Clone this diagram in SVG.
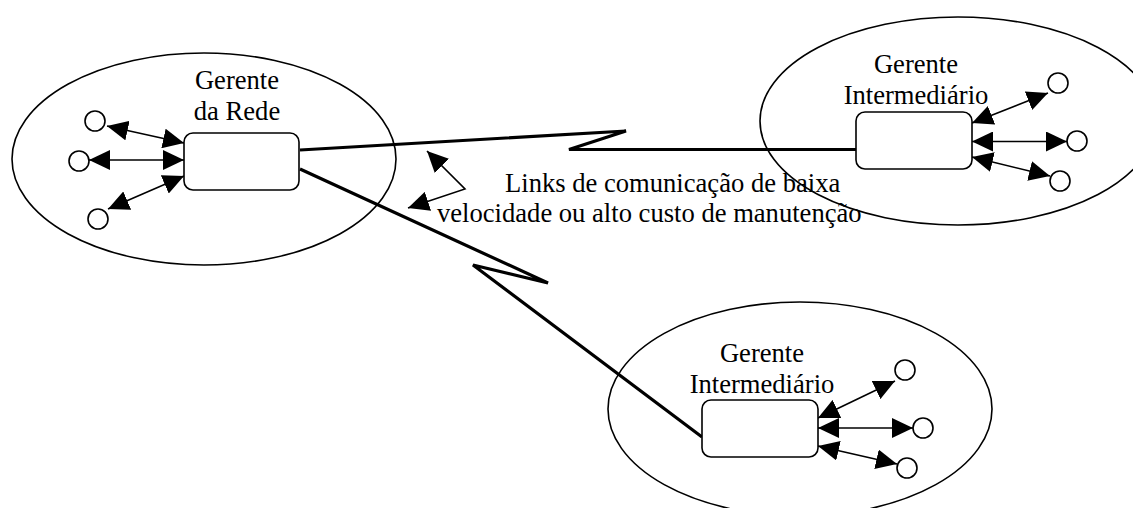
<svg xmlns="http://www.w3.org/2000/svg" width="1133" height="508" viewBox="0 0 1133 508">
<style>
.ell{fill:none;stroke:#000;stroke-width:1.6}
.box{fill:#fff;stroke:#000;stroke-width:1.6}
.dot{fill:#fff;stroke:#000;stroke-width:1.6}
.link{fill:none;stroke:#000;stroke-width:3.2;stroke-linejoin:miter}
.arr{fill:none;stroke:#000;stroke-width:1.6;marker-start:url(#ah);marker-end:url(#ah)}
.t{font-family:"Liberation Serif","Times New Roman",serif;font-size:26.6px;fill:#000}
.c{text-anchor:middle}
</style>
<defs>
<marker id="ah" markerUnits="userSpaceOnUse" markerWidth="22" markerHeight="20" refX="21" refY="10" orient="auto-start-reverse" viewBox="0 0 22 20">
<path d="M0,0 L21,10 L0,20 z" fill="#000"/>
</marker>
</defs>
<g id="domains">
<ellipse class="ell" cx="204" cy="159" rx="192" ry="106"/>
<ellipse class="ell" cx="958" cy="121" rx="198" ry="104"/>
<ellipse class="ell" cx="800" cy="409" rx="192" ry="107"/>
</g>
<g id="connectors">
<path class="link" d="M300,150 L626,131 L569,149.5 L856,149.5"/>
<path class="link" d="M300,169 L548,283 L473,265 L702,437"/>
<polyline class="arr" points="427,151 465,189 408,208"/>
<line class="arr" x1="184" y1="143" x2="107" y2="126"/>
<line class="arr" x1="184" y1="160" x2="89" y2="160"/>
<line class="arr" x1="184" y1="176" x2="108" y2="209"/>
<line class="arr" x1="972" y1="123" x2="1048" y2="93"/>
<line class="arr" x1="972" y1="141.5" x2="1067" y2="141.5"/>
<line class="arr" x1="972" y1="157" x2="1050" y2="176"/>
<line class="arr" x1="818" y1="418" x2="895" y2="381"/>
<line class="arr" x1="818" y1="428" x2="913" y2="428"/>
<line class="arr" x1="818" y1="446" x2="897" y2="464"/>
</g>
<g id="gerente-rede">
<rect class="box" x="184" y="133" width="115" height="57" rx="9"/>
<text class="t c" x="237" y="89">Gerente</text>
<text class="t c" x="237" y="120">da Rede</text>
<circle class="dot" cx="95" cy="121" r="10"/>
<circle class="dot" cx="79" cy="161" r="10"/>
<circle class="dot" cx="98" cy="219" r="10"/>
</g>
<g id="gerente-intermediario-1">
<rect class="box" x="856" y="112" width="116" height="57" rx="9"/>
<text class="t c" x="916" y="73">Gerente</text>
<text class="t c" x="916" y="103.5">Intermediário</text>
<circle class="dot" cx="1058" cy="83" r="10"/>
<circle class="dot" cx="1077" cy="141" r="10"/>
<circle class="dot" cx="1060" cy="181" r="10"/>
</g>
<g id="gerente-intermediario-2">
<rect class="box" x="702" y="400" width="116" height="57" rx="9"/>
<text class="t c" x="762" y="362">Gerente</text>
<text class="t c" x="762" y="393">Intermediário</text>
<circle class="dot" cx="905" cy="370" r="10"/>
<circle class="dot" cx="923" cy="428" r="10"/>
<circle class="dot" cx="907" cy="468" r="10"/>
</g>
<g id="label">
<text class="t" x="505" y="192">Links de comunicação de baixa</text>
<text class="t" x="437" y="222">velocidade ou alto custo de manutenção</text>
</g>
</svg>
